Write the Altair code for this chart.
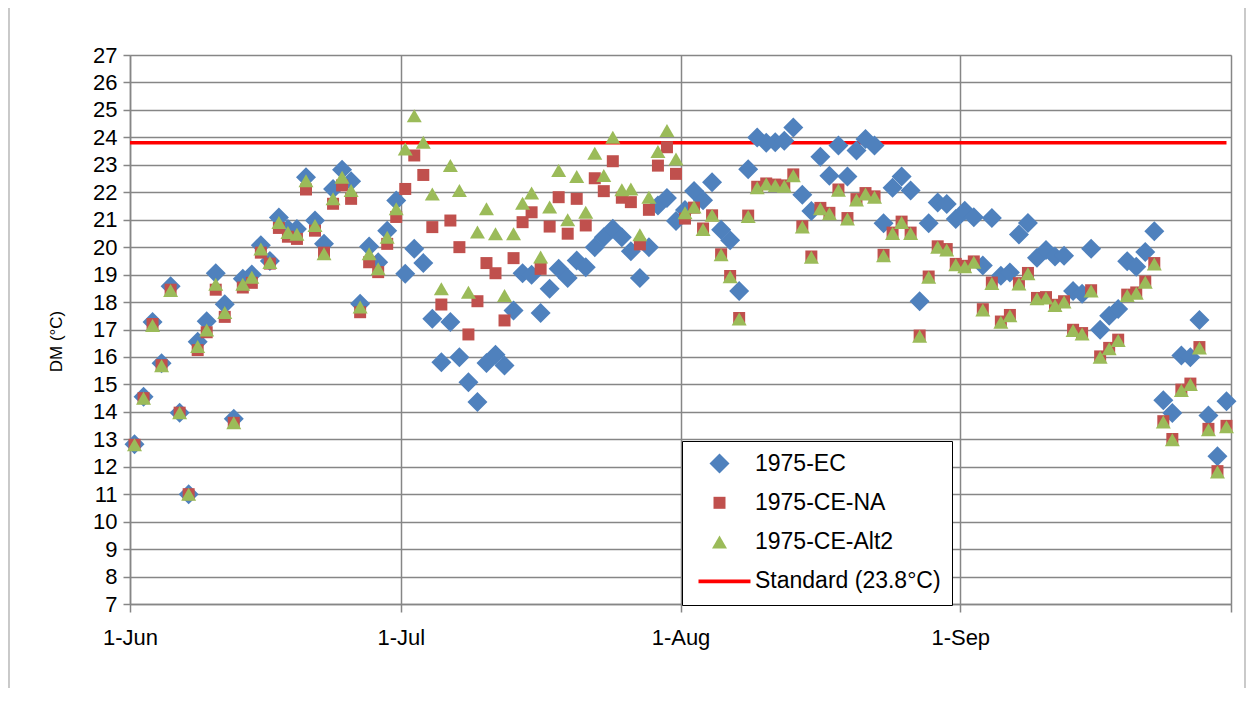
import altair as alt
import pandas as pd

# ---------------- data ----------------
season_start = "1975-06-01"
n_days = 122
series_names = ["1975-EC", "1975-CE-NA", "1975-CE-Alt2"]
standard_label = "Standard (23.8°C)"
standard_value = 23.8
standard_span = ["1975-06-01T00:00:00Z", "1975-09-30T12:00:00Z"]

ec = [12.82, 14.55, 17.27, 15.77, 18.58, 13.97, 11.0, 16.55, 17.3, 19.05,
      17.92, 13.75, 18.85, 19.0, 20.07, 19.5, 21.08, 20.66, 20.66, 22.55,
      20.97, 20.12, 22.12, 22.82, 22.4, 17.94, 20.02, 19.45, 20.6, 21.7,
      19.03, 19.94, 19.42, 17.39, 15.81, 17.27, 15.99, 15.08, 14.36, 15.78,
      16.08, 15.69, 17.69, 19.05, 18.99, 17.6, 18.48, 19.21, 18.88, 19.51,
      19.27, 20.0, 20.36, 20.67, 20.36, 19.85, 18.88, 20.0, 21.52, 21.79,
      20.95, 21.35, 22.05, 21.71, 22.36, 20.63, 20.25, 18.4, 22.84, 23.99,
      23.8, 23.82, 23.88, 24.36, 21.91, 21.32, 23.29, 22.6, 23.7, 22.57,
      23.52, 23.94, 23.7, 20.87, 22.16, 22.57, 22.06, 18.03, 20.87, 21.63,
      21.57, 21.03, 21.33, 21.09, 19.33, 21.06, 18.96, 19.08, 20.46, 20.88,
      19.61, 19.9, 19.66, 19.69, 18.4, 18.3, 19.94, 16.99, 17.5, 17.75,
      19.49, 19.29, 19.82, 20.58, 14.42, 13.96, 16.05, 15.99, 17.35, 13.87,
      12.38, 14.39]

ce_na = [12.8, 14.5, 17.2, 15.7, 18.45, 13.97, 11.0, 16.25, 16.9, 18.45,
         17.46, 13.6, 18.53, 18.7, 19.8, 19.4, 20.7, 20.38, 20.3, 22.1,
         20.6, 19.8, 21.58, 22.25, 21.76, 17.63, 19.45, 19.09, 20.12, 21.1,
         22.12, 23.34, 22.63, 20.73, 17.91, 20.97, 20.0, 16.82, 18.03, 19.42,
         19.05, 17.33, 19.6, 20.91, 21.27, 19.21, 20.75, 21.82, 20.49, 21.76,
         20.79, 22.51, 22.04, 23.13, 21.8, 21.64, 20.1, 21.36, 22.97, 23.64,
         22.67, 21.04, 21.44, 20.68, 21.16, 19.74, 18.95, 17.42, 21.15, 22.2,
         22.32, 22.28, 22.25, 22.65, 20.76, 19.66, 21.43, 21.25, 22.1, 21.06,
         21.75, 21.97, 21.85, 19.72, 20.53, 20.93, 20.53, 16.78, 18.93, 20.03,
         19.93, 19.39, 19.32, 19.48, 17.74, 18.71, 17.29, 17.53, 18.69, 19.06,
         18.15, 18.18, 17.9, 18.03, 16.99, 16.87, 18.43, 16.02, 16.33, 16.63,
         18.27, 18.35, 18.75, 19.42, 13.66, 13.01, 14.81, 15.03, 16.36, 13.38,
         11.84, 13.49]

ce_alt2 = [12.8, 14.5, 17.15, 15.68, 18.42, 13.97, 11.0, 16.38, 16.98, 18.65,
           17.62, 13.6, 18.65, 18.9, 19.93, 19.44, 20.9, 20.53, 20.47, 22.42,
           20.79, 19.76, 21.76, 22.55, 22.06, 17.82, 19.76, 19.21, 20.36, 21.4,
           23.58, 24.79, 23.82, 21.94, 18.48, 22.97, 22.06, 18.36, 20.55, 21.4,
           20.49, 18.24, 20.49, 21.6, 21.97, 19.64, 21.46, 22.79, 21.0, 22.57,
           21.27, 23.42, 22.61, 24.0, 22.09, 22.12, 20.45, 21.82, 23.48, 24.25,
           23.21, 21.25, 21.46, 20.64, 21.16, 19.72, 18.92, 17.38, 21.12, 22.16,
           22.3, 22.25, 22.22, 22.6, 20.73, 19.63, 21.4, 21.22, 22.07, 21.03,
           21.72, 21.94, 21.82, 19.69, 20.5, 20.9, 20.5, 16.75, 18.9, 20.0,
           19.9, 19.36, 19.29, 19.45, 17.71, 18.68, 17.26, 17.5, 18.66, 19.03,
           18.12, 18.15, 17.87, 18.0, 16.96, 16.84, 18.4, 15.99, 16.3, 16.6,
           18.24, 18.32, 18.72, 19.39, 13.63, 12.98, 14.78, 15.0, 16.33, 13.35,
           11.81, 13.46]

y_ticks = list(range(7, 28))

# ---------------- tables ----------------
dates = pd.date_range(season_start, periods=n_days, freq="D").strftime("%Y-%m-%d").tolist()
rows = []
for name, vals in zip(series_names, [ec, ce_na, ce_alt2]):
    for d, v in zip(dates, vals):
        rows.append({"date": d, "value": v, "series": name})
df = pd.DataFrame(rows)

std_df = pd.DataFrame({"start": [standard_span[0]], "end": [standard_span[1]],
                       "value": [standard_value]})

# ---------------- styling ----------------
FONT = "Liberation Sans"
GRID = "#868686"
legend_domain = series_names + [standard_label]
colors = ["#4F81BD", "#C0504D", "#9BBB59", "#FF0000"]
shapes = [
    "M-1,0L0,-1L1,0L0,1Z",                  # diamond
    "M-0.6,-0.6H0.6V0.6H-0.6Z",             # square
    "M0,-0.65L0.75,0.65L-0.75,0.65Z",       # triangle
    "M-2.1,-0.18H3.1V0.18H-2.1Z",           # line for the standard
]

month_starts = [alt.DateTime(year=1975, month=m, date=1, utc=True) for m in (6, 7, 8, 9, 10)]
x_scale = alt.Scale(type="utc", domain=[month_starts[0], month_starts[-1]])
x_axis = alt.Axis(values=month_starts, title=None, grid=True, gridColor=GRID, gridWidth=1.5,
                  domainColor=GRID, domainWidth=1.5, tickColor=GRID, tickWidth=1.5, tickSize=8,
                  labelExpr="utcmonth(datum.value) == 9 ? '' : utcFormat(datum.value, '%-d-%b')",
                  labelFont=FONT, labelFontSize=22, labelColor="black", labelPadding=15,
                  labelFlush=False, labelOverlap=False)
y_scale = alt.Scale(domain=[7, 27], nice=False, zero=False)
y_axis = alt.Axis(values=y_ticks, title="DM (°C)", grid=True, gridColor=GRID, gridWidth=1.5,
                  domainColor=GRID, domainWidth=1.5, tickColor=GRID, tickWidth=1.5, tickSize=7,
                  labelFont=FONT, labelFontSize=22, labelColor="black", labelPadding=6,
                  labelOverlap=False, titleFont=FONT, titleFontSize=17, titleFontWeight="normal",
                  titleColor="black", titlePadding=27, titleY=286)

legend = alt.Legend(orient="none", legendX=552, legendY=386, title=None,
                    fillColor="white", strokeColor="black", padding=11,
                    symbolSize=400, symbolStrokeWidth=0, symbolOpacity=1, symbolOffset=15,
                    labelFont=FONT, labelFontSize=23, labelColor="black", labelOffset=24,
                    labelLimit=400, rowPadding=15.3)

points = alt.Chart(df).mark_point(filled=True, opacity=1, size=400, strokeWidth=0).encode(
    x=alt.X("date:T", timeUnit="utcyearmonthdate", bandPosition=0.5, scale=x_scale, axis=x_axis, title=None),
    y=alt.Y("value:Q", scale=y_scale, axis=y_axis, title="DM (°C)"),
    color=alt.Color("series:N", scale=alt.Scale(domain=legend_domain, range=colors), legend=legend),
    shape=alt.Shape("series:N", scale=alt.Scale(domain=legend_domain, range=shapes), legend=legend),
)

standard = alt.Chart(std_df).mark_rule(color="#FF0000", strokeWidth=3.5).encode(
    x=alt.X("start:T", scale=x_scale, axis=x_axis, title=None),
    x2="end:T",
    y=alt.Y("value:Q", scale=y_scale, axis=y_axis, title="DM (°C)"),
)

frame_data = alt.Data(values=[{}])
frame_left = alt.Chart(frame_data).mark_rule(color="#a6a6a6", strokeWidth=1.2).encode(
    x=alt.value(-121), y=alt.value(-47), y2=alt.value(633))
frame_right = alt.Chart(frame_data).mark_rule(color="#a6a6a6", strokeWidth=1.2).encode(
    x=alt.value(1115), y=alt.value(-47), y2=alt.value(633))

chart = alt.layer(frame_left, frame_right, standard, points).properties(
    width=1101, height=549,
    autosize=alt.AutoSizeParams(type="none"),
    padding={"left": 122, "top": 47, "right": 16, "bottom": 84},
).configure_view(strokeWidth=0).configure_legend(strokeWidth=2).configure_axisY(
    titleFontSize=17, titleFont=FONT, titleFontWeight="normal", titleColor="black"
).configure(font=FONT, background="white")

chart.save("out.html", embed_options={"renderer": "svg", "actions": False})
